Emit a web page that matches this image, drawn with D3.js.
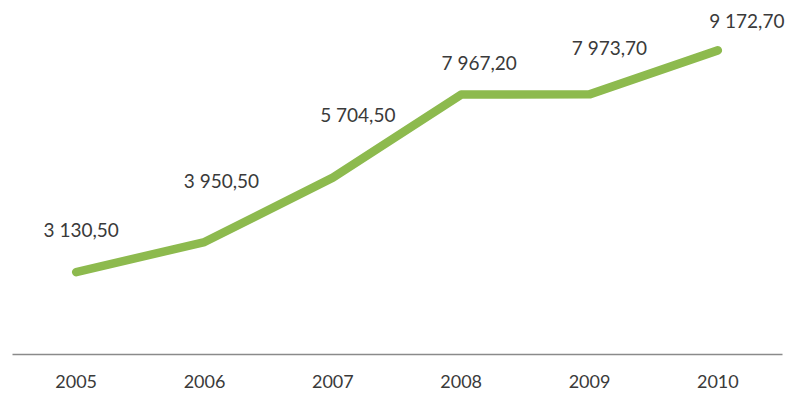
<!DOCTYPE html>
<html>
<head>
<meta charset="utf-8">
<script src="https://cdn.jsdelivr.net/npm/d3@7"></script>
<style>
  html, body { margin: 0; padding: 0; background: #ffffff; }
  svg { display: block; }
</style>
</head>
<body>
<svg id="chart" width="786" height="394"></svg>
<script>
// Yearly values
const years = ["2005", "2006", "2007", "2008", "2009", "2010"];
const values = [3130.5, 3950.5, 5704.5, 7967.2, 7973.7, 9172.7];
const valueLabels = ["3 130,50", "3 950,50", "5 704,50", "7 967,20", "7 973,70", "9 172,70"];

// Hand-placed label nudges (dx, dy from the point)
const labelDx = [5, 17, 25, 18, 20, 29];
const labelDy = [-35, -54, -56, -25, -39, -22];

const svg = d3.select("#chart");

const x = d3.scaleBand().domain(years).range([12, 782]);
const y = d3.scaleLinear().domain([900, 10000]).range([354, 20]);
const cx = d => x(d) + x.bandwidth() / 2;

// baseline axis
const xAxis = d3.axisBottom(x).tickSize(0).tickPadding(0);
const gx = svg.append("g").attr("transform", `translate(0,${y(900)})`).call(xAxis);
gx.select(".domain").attr("stroke", "#8a8a8a").attr("stroke-width", 1.6);
gx.selectAll(".tick text")
  .attr("dy", null)
  .attr("y", 34)
  .attr("fill", "#3a3a3a")
  .style("font-family", "Lato, 'Open Sans', sans-serif")
  .style("font-size", "18px");

// series line
const line = d3.line()
  .x((d, i) => cx(years[i]))
  .y(d => y(d));

svg.append("path")
  .datum(values)
  .attr("d", line)
  .attr("fill", "none")
  .attr("stroke", "#8dba4e")
  .attr("stroke-width", 8.5)
  .attr("stroke-linecap", "round")
  .attr("stroke-linejoin", "round");

// value labels
svg.append("g").selectAll("text")
  .data(values)
  .join("text")
  .attr("x", (d, i) => cx(years[i]) + labelDx[i])
  .attr("y", (d, i) => y(d) + labelDy[i])
  .attr("text-anchor", "middle")
  .attr("fill", "#3a3a3a")
  .style("font-family", "Lato, 'Open Sans', sans-serif")
  .style("font-size", "19px")
  .text((d, i) => valueLabels[i]);
</script>
</body>
</html>
